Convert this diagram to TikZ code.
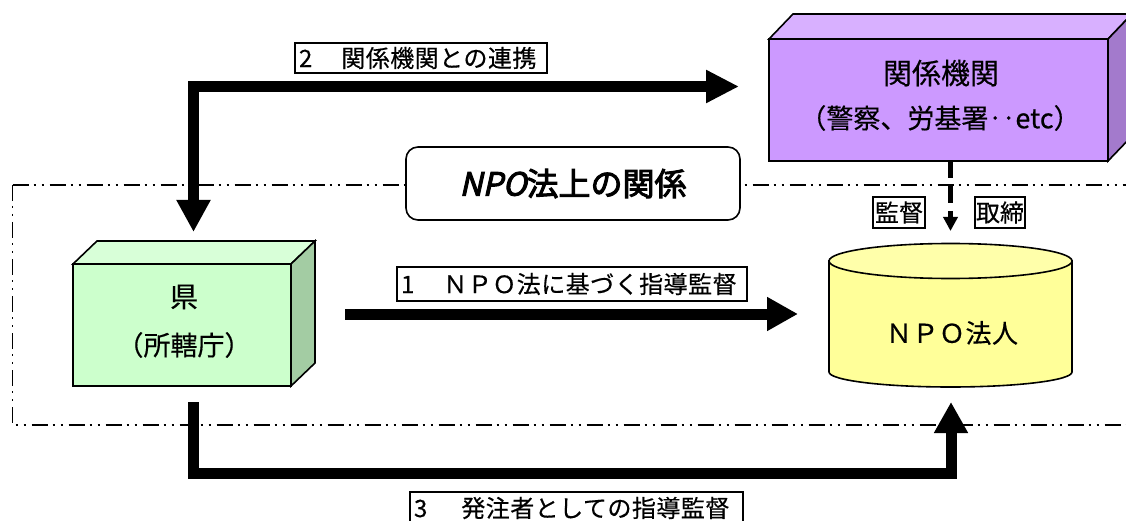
\documentclass[tikz,border=0pt]{standalone}
\usepackage{fontspec}
\setmainfont{Noto Sans CJK JP}
\newfontfamily\jplab{Noto Sans CJK JP}[LetterSpace=2,FakeBold=0.4]
\newfontfamily\jpbig{Noto Sans CJK JP}[LetterSpace=0,FakeBold=0.4]
\newfontfamily\jpgreen{Noto Sans CJK JP}[LetterSpace=0,FakeBold=0.4]
\newfontfamily\jpnpo{Noto Sans CJK JP}[LetterSpace=2,FakeBold=0.4]
\newfontfamily\jpsmall{Noto Sans CJK JP}[LetterSpace=0,FakeBold=0.4]
\newfontfamily\jptitle{Noto Sans CJK JP}[FakeBold=3]
\newfontfamily\jptitlesl{Noto Sans CJK JP}[FakeBold=3,FakeSlant=0.22]
\usetikzlibrary{arrows.meta,calc}
\definecolor{pfront}{HTML}{CC99FF}
\definecolor{ptop}{HTML}{D8B0FF}
\definecolor{pside}{HTML}{A37ACC}
\definecolor{gfront}{HTML}{CCFFCC}
\definecolor{gtop}{HTML}{D8FFD8}
\definecolor{gside}{HTML}{A3CCA3}
\definecolor{yel}{HTML}{FFFF99}
\definecolor{yeltop}{HTML}{FFFFAA}
\tikzset{
  face/.style={draw, line width=1.6pt, inner sep=0pt, outer sep=0pt},
  facepart/.style={draw, line width=1.6pt, line join=miter},
  boxtext/.style={inner sep=0pt},
  lab/.style={draw, line width=1.6pt, fill=white, inner xsep=4pt, inner ysep=0pt, align=left,
    font=\fontsize{24pt}{28pt}\selectfont\jplab},
  small/.style={draw, line width=1.6pt, fill=white, inner xsep=1pt, inner ysep=0pt,
    minimum width=52pt, minimum height=31pt, font=\fontsize{24pt}{28pt}\selectfont\jpsmall},
  frame/.style={line width=1.4pt, dash pattern=on 16pt off 5pt on 2pt off 6pt on 2pt off 6pt},
  bigarrow/.style={line width=11pt, line join=miter, -{Triangle[length=31pt,width=32pt]}},
  dasharrow/.style={line width=5pt, dash pattern=on 17pt off 8pt, -{Triangle[length=14pt,width=14pt]}}
}
\begin{document}
\begin{tikzpicture}[x=1pt,y=1pt]
\useasboundingbox (0,0) rectangle (1126,520);
\clip (0,0) rectangle (1126,520);

% dash-dot frame
\draw[frame] (12.5,335) -- (1140,335);
\draw[frame] (12.5,335) -- (12.5,95) -- (1140,95);

% green 3D box (ken)
\node[face, fill=gfront, minimum width=218pt, minimum height=122pt] (ken) at (182,195) {};
\filldraw[facepart, fill=gtop] (ken.north west) -- ++(24,23) -- ++(218,0) -- (ken.north east) -- cycle;
\filldraw[facepart, fill=gside] (ken.north east) -- ++(24,23) -- ++(0,-122) -- (ken.south east) -- cycle;
\node[boxtext, font=\fontsize{28pt}{32pt}\selectfont\jpgreen] (kenA) at (184,223) {県};
\node[boxtext, font=\fontsize{27pt}{32pt}\selectfont\jpgreen] (kenB) at (184,175) {（所轄庁）};

% purple 3D box (kankei)
\node[face, fill=pfront, minimum width=339pt, minimum height=122pt] (kankei) at (938.5,420) {};
\filldraw[facepart, fill=ptop] (kankei.north west) -- ++(24,25) -- ++(339,0) -- (kankei.north east) -- cycle;
\filldraw[facepart, fill=pside] (kankei.north east) -- ++(24,25) -- ++(0,-122) -- (kankei.south east) -- cycle;
\node[boxtext, font=\fontsize{29pt}{32pt}\selectfont\jpbig] (kankeiA) at (941,447) {関係機関};
\node[boxtext, font=\fontsize{27pt}{32pt}\selectfont\jpbig] (kankeiB) at (940,402) {（警察、労基署‥etc）};

% cylinder (npo)
\node[inner sep=0pt, outer sep=0pt, minimum width=243pt, minimum height=144pt] (npo) at (950.5,204.5) {};
\filldraw[line width=1.6pt, fill=yel] (829,259) -- (829,148)
  arc[start angle=180, end angle=360, x radius=121.5, y radius=15] -- (1072,259) -- cycle;
\filldraw[line width=1.6pt, fill=yeltop] (950.5,259) ellipse[x radius=121.5, y radius=17.5];
\node[boxtext, font=\fontsize{26pt}{30pt}\selectfont\jpnpo] (npoT) at (952,187) {ＮＰＯ法人};

% title box
\node[draw, line width=1.6pt, rounded corners=12pt, fill=white, minimum width=334pt,
  minimum height=73pt, inner sep=0pt] (title) at (573,336.5)
  {\fontsize{32pt}{36pt}\selectfont{\jptitlesl NPO}{\jptitle 法上の関係}};

% arrow 1
\draw[bigarrow, shorten >=31pt] ($(ken.east |- npo.west)+(54,1.5)$) -- ($(npo.west)+(0,1.5)$);
\node[lab, text width=342pt, minimum height=34pt] (l1) at (572,236) {1\hspace{29pt}ＮＰＯ法に基づく指導監督};

% arrow 2 (both ends)
\draw[line width=11pt, line join=miter,
  {Triangle[length=32pt,width=32pt]}-{Triangle[length=33pt,width=31pt]}]
  ($(ken.north)+(11.5,32)$) |- ($(kankei.west)+(-30,13.5)$);
\node[lab, text width=244pt, minimum height=30pt] (l2) at (421,462) {2\hspace{29pt}関係機関との連携};

% arrow 3
\draw[bigarrow] ($(ken.south)+(11.5,-16)$) -- ++(0,-71) -| ($(npo.south)+(0.5,-14.5)$);
\node[lab, text width=325pt, minimum height=32pt] (l3) at (576.5,12) {3\hspace{34pt}発注者としての指導監督};

% dashed arrow
\draw[dasharrow] ($(kankei.south)+(12,0)$) -- ($(npo.north)+(0,12.5)$);
\node[small] (kantoku) at (899,307.5) {監督};
\node[small, minimum width=48pt] (torishimari) at (1000,307.5) {取締};
\end{tikzpicture}
\end{document}
